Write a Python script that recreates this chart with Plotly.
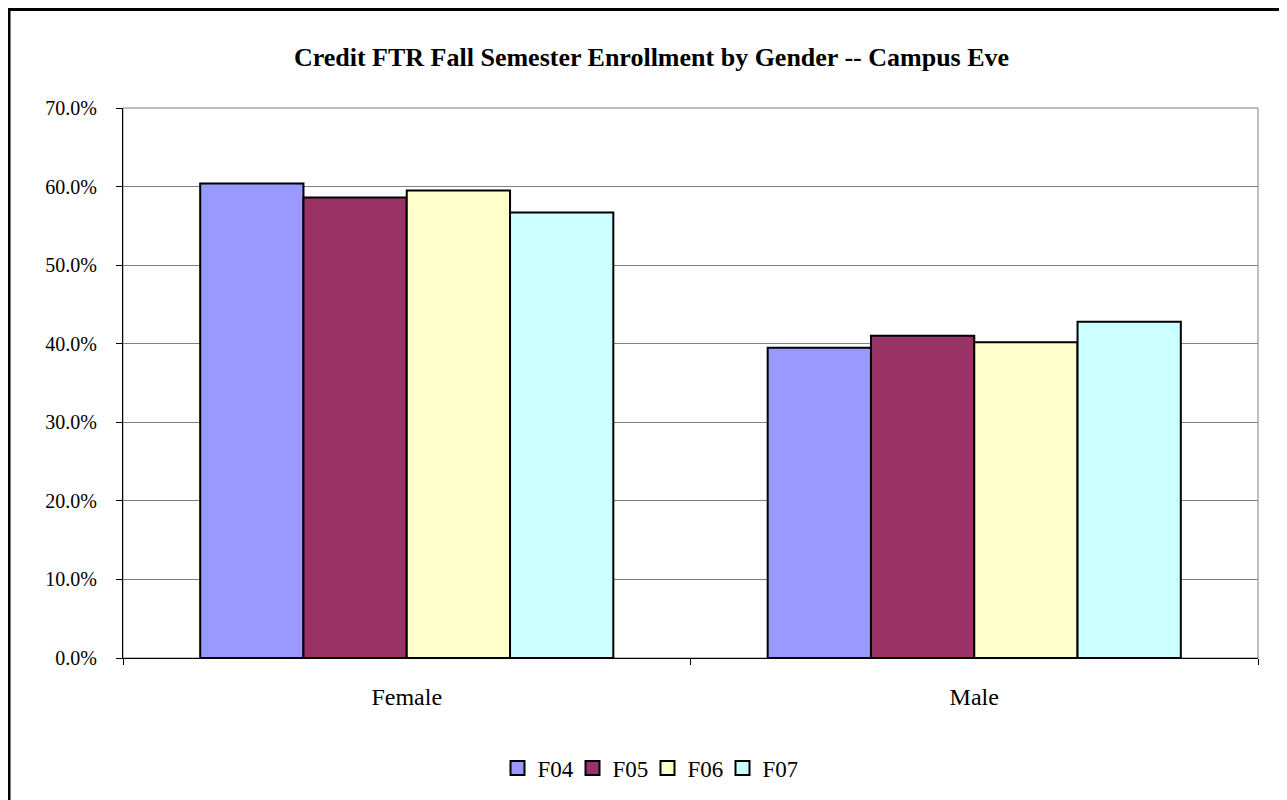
import plotly.graph_objects as go

categories = ["Female", "Male"]
series_names = ["F04", "F05", "F06", "F07"]
f04 = [60.4, 39.5]
f05 = [58.6, 41.0]
f06 = [59.5, 40.2]
f07 = [56.7, 42.8]
values = [f04, f05, f06, f07]
colors = ["#9999FF", "#993366", "#FFFFCC", "#CCFFFF"]
y_ticks = [0, 10, 20, 30, 40, 50, 60, 70]
y_labels = [f"{v:.1f}%" for v in y_ticks]

W, H = 1287, 800
L, R, T, B = 115, 37, 100, 150
pw, ph = W - L - R, H - T - B
FONT = "Liberation Serif, Times New Roman, serif"

fig = go.Figure()
for name, vals, col in zip(series_names, values, colors):
    fig.add_trace(go.Bar(
        x=categories, y=vals, name=name, showlegend=False,
        marker=dict(color=col, line=dict(color="black", width=2)),
        hovertemplate=name + " %{x}: %{y:.1f}%<extra></extra>",
    ))
# legend entries (square swatches)
for name, col in zip(series_names, colors):
    fig.add_trace(go.Scatter(
        x=[None], y=[None], name=name, mode="markers",
        marker=dict(symbol="square", size=14, color=col, line=dict(color="black", width=2)),
        hoverinfo="skip",
    ))

fig.update_layout(
    width=W, height=H,
    margin=dict(l=L, r=R, t=T, b=B),
    paper_bgcolor="white", plot_bgcolor="white",
    barmode="group", bargap=0.272, bargroupgap=0,
    font=dict(family=FONT, size=20, color="black"),
    title=dict(text="<b>Credit FTR Fall Semester Enrollment by Gender -- Campus Eve</b>",
               x=0.5, xref="container", xanchor="center",
               y=1 - 49 / H, yref="container", yanchor="middle",
               font=dict(size=26, family=FONT)),
    xaxis=dict(type="category", tickson="boundaries", ticks="outside", ticklen=6,
               tickcolor="black", showline=True, linecolor="black", linewidth=1,
               showgrid=False, tickfont=dict(size=24), ticklabelstandoff=17),
    yaxis=dict(range=[0, 70], tickvals=y_ticks, ticktext=y_labels, ticks="outside",
               ticklen=6, tickcolor="black", showline=True, linecolor="black", linewidth=1,
               showgrid=True, gridcolor="#808080", gridwidth=1, zeroline=False,
               tickfont=dict(size=20), ticklabelstandoff=15),
    legend=dict(orientation="h", x=(639.5 - L) / pw, xanchor="center",
                y=-(760 - (T + ph)) / ph, yanchor="middle", font=dict(size=23),
                itemsizing="trace", traceorder="normal",
                entrywidth=30, entrywidthmode="pixels"),
    showlegend=True,
    shapes=[
        dict(type="rect", xref="paper", yref="paper", x0=0, x1=1, y0=0, y1=1,
             line=dict(color="#808080", width=1), layer="below"),
        dict(type="rect", xref="paper", yref="paper",
             x0=-(L - 1) / pw, x1=1 + (R - 1) / pw, y0=-(B - 1) / ph, y1=1 + (T - 1.5) / ph,
             line=dict(color="black", width=3)),
    ],
)

fig.write_html("out.html")
